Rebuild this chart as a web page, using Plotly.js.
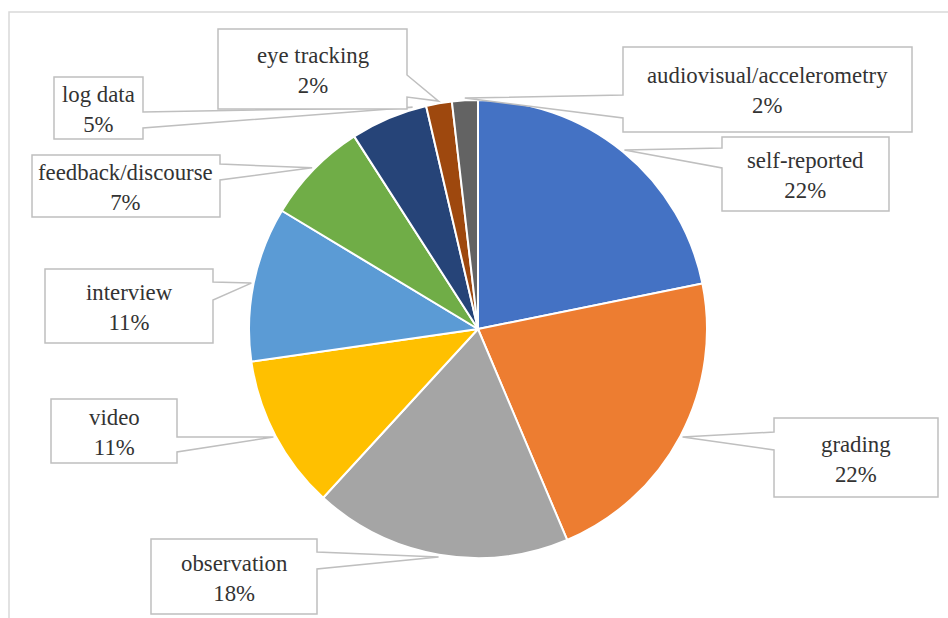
<!DOCTYPE html>
<html>
<head>
<meta charset="utf-8">
<script src="https://cdn.plot.ly/plotly-3.0.1.min.js"></script>
<style>html,body{margin:0;padding:0;background:#fff;}#chart{width:948px;height:618px;}</style>
</head>
<body>
<div id="chart"></div>
<script>
// ---- data ----
const labels = ['self-reported','grading','observation','video','interview','feedback/discourse','log data','eye tracking','audiovisual/accelerometry'];
const counts = [12, 12, 10, 6, 6, 4, 3, 1, 1];
const colors = ['#4472C4','#ED7D31','#A5A5A5','#FFC000','#5B9BD5','#70AD47','#264478','#9E480E','#636363'];

// ---- layout config (pixel geometry) ----
const W = 948, H = 618;
const CX = 478, CY = 329, R = 229;
// box: [x0, y0, x1, y1, side, wedgeA, wedgeB, anchorFractionInSlice]
const callouts = {
  'self-reported':            [722, 137, 889, 211, 'left', 148, 168, 0.5],
  'grading':                  [774, 418, 938, 497, 'left', 432, 450, 0.5],
  'observation':              [151, 539, 317, 614, 'right', 552, 569, 0.5],
  'video':                    [51, 399, 177, 463, 'right', 437, 452, 0.5],
  'interview':                [45, 269, 213, 343, 'right', 282, 300, 0.5],
  'feedback/discourse':       [32, 155, 220, 217, 'right', 164, 180, 0.5],
  'log data':                 [54, 77, 143, 139, 'right', 112, 128, 0.83],
  'eye tracking':             [218, 29, 407, 109, 'right', 75, 97, 0.5],
  'audiovisual/accelerometry':[623, 47, 912, 132, 'left', 95, 118, 0.5]
};

const px = x => x / W;
const py = y => 1 - y / H;
const FONT = "'Liberation Serif'";

const total = counts.reduce((a, b) => a + b, 0);
const shapes = [{
  type: 'rect', xref: 'paper', yref: 'paper', layer: 'below',
  x0: px(9), x1: px(980), y0: py(12), y1: py(650),
  line: {color: '#d9d9d9', width: 1.5}, fillcolor: 'rgba(0,0,0,0)'
}];
const annotations = [];
let cum = 0;
labels.forEach((lab, i) => {
  const c = callouts[lab];
  const f = (cum + counts[i] * c[7]) / total;
  cum += counts[i];
  const th = f * 2 * Math.PI;
  const tx = CX + R * 1.01 * Math.sin(th);
  const ty = CY - R * 1.01 * Math.cos(th);
  const [x0, y0, x1, y1, side, a, b] = c;
  let p;
  if (side === 'left') {
    p = [[x0,y0],[x1,y0],[x1,y1],[x0,y1],[x0,b],[tx,ty],[x0,a]];
  } else {
    p = [[x0,y0],[x1,y0],[x1,a],[tx,ty],[x1,b],[x1,y1],[x0,y1]];
  }
  const path = 'M ' + p.map(q => px(q[0]).toFixed(5) + ',' + py(q[1]).toFixed(5)).join(' L ') + ' Z';
  shapes.push({
    type: 'path', xref: 'paper', yref: 'paper', layer: 'above', path: path,
    fillcolor: '#ffffff', line: {color: '#bfbfbf', width: 1.5}
  });
  const pct = Math.round(counts[i] / total * 100) + '%';
  annotations.push({
    xref: 'paper', yref: 'paper', x: px((x0 + x1) / 2), y: py((y0 + y1) / 2 + 1.5),
    xanchor: 'center', yanchor: 'middle', showarrow: false, align: 'center',
    text: lab + '<br>' + pct,
    font: {family: FONT, size: 22.8, color: '#333333'}
  });
});

const trace = {
  type: 'pie', labels: labels, values: counts, sort: false, direction: 'clockwise', rotation: 0,
  marker: {colors: colors, line: {color: '#ffffff', width: 2}},
  textinfo: 'none', textposition: 'none', hoverinfo: 'none', showlegend: false,
  domain: {x: [px(CX - R), px(CX + R)], y: [py(CY + R), py(CY - R)]}
};

const layout = {
  width: W, height: H, margin: {l: 0, r: 0, t: 0, b: 0},
  paper_bgcolor: '#ffffff', plot_bgcolor: '#ffffff',
  font: {family: FONT},
  showlegend: false, shapes: shapes, annotations: annotations
};

Plotly.newPlot('chart', [trace], layout, {displayModeBar: false, staticPlot: true});
</script>
</body>
</html>
